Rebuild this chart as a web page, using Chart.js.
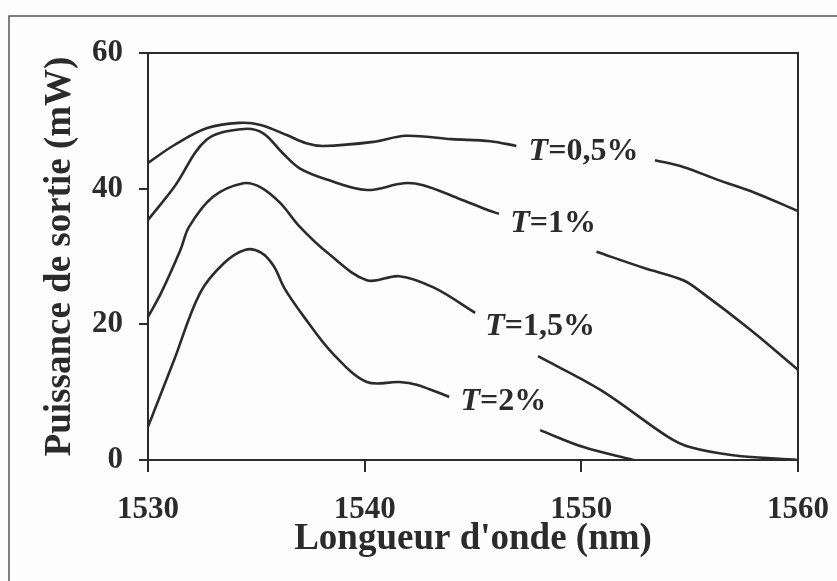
<!DOCTYPE html>
<html>
<head>
<meta charset="utf-8">
<title>Puissance de sortie</title>
<script src="https://cdn.jsdelivr.net/npm/chart.js@4.4.1/dist/chart.umd.min.js"></script>
<style>
  html, body { margin: 0; padding: 0; background: #fff; }
  canvas { display: block; }
</style>
</head>
<body>
<canvas id="graphique" width="837" height="581"></canvas>
<script>
// Longueurs d'onde (nm) et puissances (mW) ; null = coupure sous l'étiquette
const lambda05 = [1530, 1531.2, 1532.7, 1534.2, 1535.2, 1536.4, 1537.3, 1538.1, 1540.4, 1541.9, 1544, 1545.8, 1547, 1550, 1553.4, 1554.7, 1556.3, 1558, 1560];
const puiss05  = [43.8, 46.4, 48.9, 49.7, 49.4, 47.9, 46.7, 46.3, 46.9, 47.8, 47.3, 47, 46.3, null, 44.2, 43.2, 41.3, 39.4, 36.7];

const lambda1 = [1530, 1531.2, 1532.7, 1534.4, 1535.3, 1536.2, 1537, 1538.3, 1540.1, 1541.8, 1542.7, 1544.3, 1545.8, 1546.2, 1548.5, 1550.7, 1552.9, 1554.7, 1555.6, 1557.8, 1560];
const puiss1  = [35.4, 40.2, 47.2, 48.8, 48.2, 45.3, 43, 41.3, 39.8, 40.8, 40.5, 38.6, 36.7, 36.3, null, 30.7, 28.3, 26.5, 24.6, 19.2, 13.3];

const lambda15 = [1530, 1530.6, 1531.5, 1531.9, 1533, 1534.4, 1535.2, 1536.1, 1537, 1538.3, 1540.1, 1541.6, 1543.2, 1545.1, 1546.5, 1548, 1550.9, 1554, 1555, 1557, 1560];
const puiss15  = [21.1, 24.6, 31, 34.4, 38.8, 40.8, 40.2, 37.9, 34.4, 30.5, 26.5, 27.1, 25.4, 21.7, null, 15.3, 10.3, 3.4, 1.9, 0.7, 0];

const lambda2 = [1530, 1531.2, 1532.4, 1533.5, 1534.5, 1535.2, 1535.8, 1536.3, 1537.2, 1538.5, 1540.1, 1541.6, 1542.4, 1543.9, 1546, 1548.1, 1550.1, 1552.4];
const puiss2  = [4.9, 14.7, 24.6, 29, 31, 30.6, 28.6, 25.3, 21.1, 15.8, 11.5, 11.5, 11.1, 9.3, null, 4.4, 1.9, 0];

// étiquettes des courbes (position en unités des axes)
const etiquettes = ['=0,5%', '=1%', '=1,5%', '=2%'];
const etiqLambda = [1550.1, 1548.7, 1548.1, 1546.4];
const etiqPuiss  = [45.4, 34.8, 19.7, 8.6];

const ticksX = [1530, 1540, 1550, 1560];
const ticksY = [0, 20, 40, 60];

const encre = '#2b2b2b';
const police = 'Liberation Serif, Times New Roman, serif';

const points = (xs, ys) => xs.map((x, i) => ({ x: x, y: ys[i] }));

const serie = (xs, ys) => ({
  data: points(xs, ys),
  borderColor: encre,
  borderWidth: 2.6,
  pointRadius: 0,
  fill: false,
  tension: 0.35,
  spanGaps: false
});

const cadre = {
  id: 'cadre',
  beforeDraw(chart) {
    const ctx = chart.ctx;
    ctx.save();
    ctx.fillStyle = '#fdfdfd';
    ctx.fillRect(0, 0, chart.width, chart.height);
    ctx.restore();
  },
  afterDraw(chart) {
    const { ctx, chartArea: a, scales } = chart;
    ctx.save();
    // bords haut et droit du graphe
    ctx.strokeStyle = encre;
    ctx.lineWidth = 2;
    ctx.beginPath();
    ctx.moveTo(a.left, a.top);
    ctx.lineTo(a.right, a.top);
    ctx.lineTo(a.right, a.bottom);
    ctx.stroke();
    // cadre extérieur
    ctx.strokeStyle = '#555';
    ctx.lineWidth = 1.5;
    ctx.beginPath();
    ctx.moveTo(9, chart.height);
    ctx.lineTo(9, 16);
    ctx.lineTo(chart.width, 16);
    ctx.stroke();
    // étiquettes T=...
    ctx.fillStyle = encre;
    ctx.textBaseline = 'middle';
    ctx.textAlign = 'left';
    const fontT = 'italic bold 32px ' + police;
    const fontR = 'bold 32px ' + police;
    etiquettes.forEach((txt, i) => {
      const cx = scales.x.getPixelForValue(etiqLambda[i]);
      const cy = scales.y.getPixelForValue(etiqPuiss[i]);
      ctx.font = fontT;
      const wT = ctx.measureText('T').width;
      ctx.font = fontR;
      const wR = ctx.measureText(txt).width;
      const x0 = cx - (wT + wR) / 2;
      ctx.font = fontT;
      ctx.fillText('T', x0, cy);
      ctx.font = fontR;
      ctx.fillText(txt, x0 + wT, cy);
    });
    ctx.restore();
  }
};

new Chart(document.getElementById('graphique'), {
  type: 'line',
  data: {
    datasets: [
      serie(lambda05, puiss05),
      serie(lambda1, puiss1),
      serie(lambda15, puiss15),
      serie(lambda2, puiss2)
    ]
  },
  options: {
    responsive: false,
    animation: false,
    devicePixelRatio: 1,
    layout: { padding: { top: 53, right: 39, left: 0, bottom: 0 } },
    plugins: {
      legend: { display: false },
      tooltip: { enabled: false }
    },
    scales: {
      x: {
        type: 'linear',
        min: 1530,
        max: 1560,
        afterBuildTicks: (s) => { s.ticks = ticksX.map(v => ({ value: v })); },
        afterFit: (s) => { s.height = 121; s.paddingRight = 0; s.paddingLeft = 0; },
        ticks: {
          color: encre,
          padding: 19,
          callback: (v) => String(v),
          font: { family: police, size: 31, weight: 'bold' }
        },
        grid: { drawOnChartArea: false, drawTicks: true, tickLength: 12, color: encre, lineWidth: 2 },
        border: { display: true, color: encre, width: 2 },
        title: {
          display: true,
          text: "Longueur d'onde (nm)",
          color: encre,
          padding: { top: 0, bottom: 19 },
          font: { family: police, size: 37, weight: 'bold' }
        }
      },
      y: {
        min: 0,
        max: 60,
        afterBuildTicks: (s) => { s.ticks = ticksY.map(v => ({ value: v })); },
        afterFit: (s) => { s.width = 148; s.paddingTop = 0; s.paddingBottom = 0; },
        ticks: {
          color: encre,
          padding: 16,
          callback: (v) => String(v),
          font: { family: police, size: 31, weight: 'bold' }
        },
        grid: { drawOnChartArea: false, drawTicks: true, tickLength: 9, color: encre, lineWidth: 2 },
        border: { display: true, color: encre, width: 2 },
        title: {
          display: true,
          text: 'Puissance de sortie (mW)',
          color: encre,
          padding: { top: 38, bottom: 0 },
          font: { family: police, size: 37, weight: 'bold' }
        }
      }
    }
  },
  plugins: [cadre]
});
</script>
</body>
</html>
